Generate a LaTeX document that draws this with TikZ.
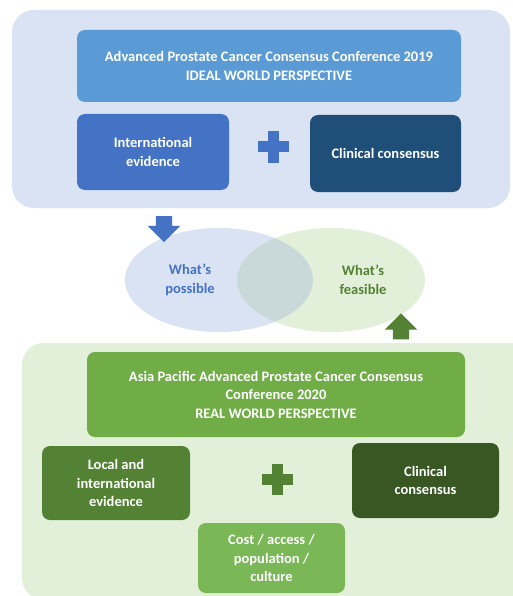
\documentclass[tikz,border=0pt]{standalone}
\usepackage{fontspec}
\setmainfont{Carlito}
\usepackage{tikz}
\usetikzlibrary{shapes.geometric,shapes.arrows}
\definecolor{panelblue}{HTML}{DAE3F3}
\definecolor{panelgreen}{HTML}{E2F0D9}
\definecolor{titleblue}{HTML}{5B9BD5}
\definecolor{midblue}{HTML}{4472C4}
\definecolor{darkblue}{HTML}{1F4E79}
\definecolor{titlegreen}{HTML}{70AD47}
\definecolor{midgreen}{HTML}{548235}
\definecolor{darkgreen}{HTML}{385723}
\definecolor{lightgreen}{HTML}{7AB757}
\definecolor{overlap}{HTML}{C9D9DA}
\tikzset{
    panel/.style={rounded corners=22pt, inner sep=0pt},
    card/.style={rounded corners=8pt, text=white, align=center, inner sep=2pt,
        font=\bfseries\fontsize{14.5}{18.5}\selectfont},
    venn/.style={ellipse, minimum width=188pt, minimum height=104pt, inner sep=0pt},
    vennlabel/.style={align=center, font=\bfseries\fontsize{14.5}{19}\selectfont},
    bigarrow/.style={single arrow, inner xsep=0pt, inner ysep=8pt,
        single arrow head extend=8pt, minimum height=26pt},
    plusmark/.pic={
        \fill[pic actions] (-15.5,-5.5) rectangle (15.5,5.5);
        \fill[pic actions] (-5.5,-15.5) rectangle (5.5,15.5);
    }
}

\begin{document}
\begin{tikzpicture}[x=1pt, y=-1pt]
    \clip (0,0) rectangle (513,596);
    \fill[white] (0,0) rectangle (513,596);

    % Panels
    \node[panel, fill=panelblue, minimum width=498pt, minimum height=198pt] (ideal) at (261,109) {};
    \node[panel, fill=panelgreen, minimum width=520pt, minimum height=257pt] (real) at (282,471.5) {};

    % Ideal world
    \node[card, fill=titleblue, minimum width=384pt, minimum height=72pt] (apccc) at (269,66)
        {Advanced Prostate Cancer Consensus Conference 2019\\IDEAL WORLD PERSPECTIVE};
    \node[card, fill=midblue, minimum width=152pt, minimum height=76pt] (intl) at (153,152)
        {International\\evidence};
    \node[card, fill=darkblue, minimum width=151pt, minimum height=77pt] (clinA) at (385.5,153.5)
        {Clinical consensus};
    \pic[fill=midblue] at (273,147) {plusmark};

    % Real world
    \node[card, fill=titlegreen, minimum width=378pt, minimum height=85pt] (apaccc) at (276,394.5)
        {Asia Pacific Advanced Prostate Cancer Consensus\\Conference 2020\\REAL WORLD PERSPECTIVE};
    \node[card, fill=midgreen, minimum width=148pt, minimum height=74pt] (local) at (116,483)
        {Local and\\international\\evidence};
    \node[card, fill=darkgreen, minimum width=147pt, minimum height=75pt] (clinB) at (425.5,480.5)
        {Clinical\\consensus};
    \node[card, fill=lightgreen, minimum width=147pt, minimum height=70pt] (cost) at (271.5,558)
        {Cost / access /\\population /\\culture};
    \pic[fill=midgreen] at (277,479) {plusmark};

    % Venn
    \node[venn, fill=panelblue] (possible) at (219,280) {};
    \node[venn, fill=panelgreen] (feasible) at (331,280) {};
    \begin{scope}
        \clip (219,280) ellipse [x radius=94, y radius=52];
        \fill[overlap] (331,280) ellipse [x radius=94, y radius=52];
    \end{scope}
    \node[vennlabel, text=midblue] (possibletext) at (190,280) {What’s\\possible};
    \node[vennlabel, text=midgreen] (feasibletext) at (363,280) {What’s\\feasible};

    % Arrows
    \node[bigarrow, fill=midblue, rotate=-90] (down) at (164,225) {};
    \node[bigarrow, fill=midgreen, rotate=90] (up) at (401,330.5) {};
\end{tikzpicture}
\end{document}
